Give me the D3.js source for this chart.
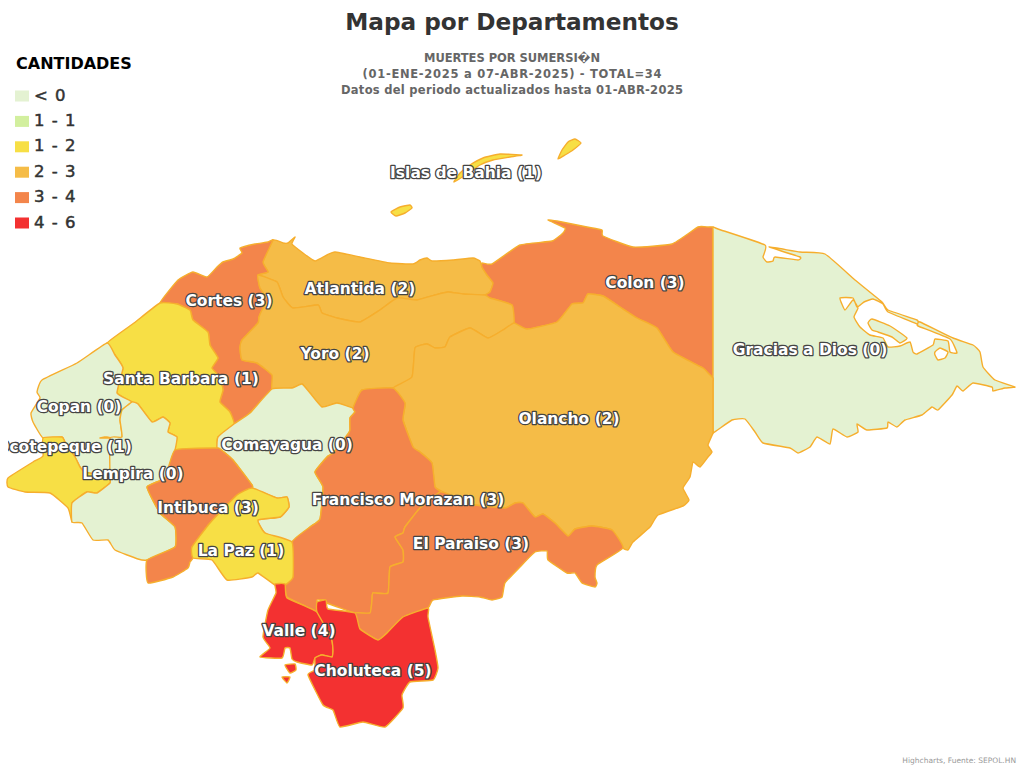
<!DOCTYPE html>
<html>
<head>
<meta charset="utf-8">
<style>
  html, body { margin: 0; padding: 0; background: #fff; }
  text { font-family: "DejaVu Sans", sans-serif; }
</style>
</head>
<body>
<div id="map"></div>
<script src="https://cdn.jsdelivr.net/npm/d3@7"></script>
<script>
// legend classes
const legendLabels = ["< 0", "1 - 1", "1 - 2", "2 - 3", "3 - 4", "4 - 6"];
const legendColors = ["#e4f2d2", "#d2ef9e", "#f7df45", "#f5bc47", "#f3854b", "#f33131"];
const classBreaks = [1, 1, 2, 3, 4];

const departments = ["Islas de Bahia", "Atlantida", "Colon", "Cortes", "Yoro", "Santa Barbara", "Gracias a Dios", "Copan", "Ocotepeque", "Olancho", "Comayagua", "Lempira", "Francisco Morazan", "Intibuca", "El Paraiso", "La Paz", "Valle", "Choluteca"];
const cantidades = [1, 2, 3, 3, 2, 1, 0, 0, 1, 2, 0, 0, 3, 3, 3, 1, 4, 5];

// where each label sits, in map units
const labelX = [466, 360, 645, 229, 335, 181, 810, 79, 64, 569, 287, 133, 408, 208, 471, 241, 299, 373];
const labelY = [172, 288, 282, 300, 353, 378, 349, 406, 446, 418, 444, 473, 499, 507, 543, 550, 630, 670];

// outlines, in map units (one list of rings per department)
const islasBahia = [
  [[454,182],[460,173],[470,165],[483,158],[500,154],[522,155],[510,157],[493,160],[480,165],[467,174]],
  [[558,159],[562,150],[568,142],[575,139],[581,143],[573,150],[565,155]],
  [[391,212],[400,207],[410,205],[412,208],[405,213],[396,216]]
];
const atlantida = [[[273,240],[283,243],[288,243],[295,237],[292,244],[303,253],[315,261],[327,255],[335,252],[360,257],[390,263],[413,264],[420,260],[427,258],[432,261],[453,260],[473,258],[480,261],[482,267],[487,275],[493,283],[490,292],[485,295],[463,294],[448,292],[435,295],[417,300],[397,298],[380,310],[360,322],[337,318],[322,313],[318,305],[293,308],[283,297],[277,282],[258,275],[268,272],[263,262]]];
const colon = [[[482,263],[492,264],[520,245],[552,241],[563,233],[565,228],[548,220],[557,221],[587,227],[602,230],[603,236],[633,247],[672,244],[698,227],[708,227],[713,227],[713,232],[713,300],[713,372],[713,378],[708,373],[703,368],[673,352],[657,328],[637,318],[620,307],[603,296],[588,294],[583,303],[572,304],[557,322],[527,329],[514,323],[512,305],[490,298],[485,295],[490,292],[493,283],[487,275],[482,267]]];
const cortes = [[[273,240],[268,242],[255,244],[240,248],[242,253],[233,259],[223,262],[217,267],[207,277],[193,272],[178,280],[160,303],[177,304],[190,310],[193,320],[208,332],[210,345],[218,358],[212,368],[220,377],[223,390],[220,402],[230,412],[234,424],[250,413],[272,389],[272,375],[257,363],[242,360],[240,348],[242,340],[258,323],[259,317],[262,310],[268,300],[260,288],[258,275],[268,272],[263,262]]];
const yoro = [[[258,275],[277,282],[283,297],[293,308],[318,305],[322,313],[337,318],[360,322],[380,310],[397,298],[417,300],[435,295],[448,292],[463,294],[485,295],[490,298],[512,305],[514,323],[503,330],[488,338],[470,328],[450,337],[445,347],[435,348],[427,344],[415,348],[412,377],[393,388],[362,390],[353,408],[337,403],[322,407],[310,393],[302,384],[292,388],[272,389],[272,375],[257,363],[242,360],[240,348],[242,340],[258,323],[259,317],[262,310],[268,300],[260,288]]];
const santaBarbara = [[[107,343],[134,323],[160,303],[177,304],[190,310],[193,320],[208,332],[210,345],[218,358],[212,368],[220,377],[223,390],[220,402],[230,412],[234,424],[218,437],[217,448],[220,449],[198,450],[175,450],[177,437],[168,432],[170,423],[163,417],[152,422],[138,404],[132,402],[117,393],[123,368],[115,355]]];
const graciasDios = [
  [[713,227],[718,229],[765,245],[763,257],[767,262],[773,261],[775,257],[798,260],[800,257],[769,247],[800,252],[825,254],[855,280],[882,302],[888,310],[917,320],[918,323],[920,322],[953,338],[973,345],[980,352],[983,367],[995,380],[1015,387],[1005,388],[993,391],[992,387],[973,383],[963,391],[957,386],[952,395],[938,410],[932,407],[922,415],[905,420],[897,427],[888,422],[887,428],[867,430],[857,424],[858,432],[847,437],[833,429],[830,444],[817,437],[810,447],[798,453],[790,448],[763,443],[755,432],[745,419],[732,420],[713,433],[713,428],[713,300],[713,232]],
  [[840,298],[853,298],[857,307],[864,302],[873,299],[883,304],[888,312],[917,324],[918,326],[950,339],[957,353],[950,352],[948,341],[935,339],[933,345],[917,354],[913,352],[910,342],[900,346],[888,347],[883,338],[870,335],[860,327],[854,317],[858,308],[853,300],[845,310]],
  [[935,352],[940,348],[948,352],[945,358],[938,360],[935,355]],
  [[868,323],[872,319],[890,326],[907,338],[900,343],[892,337],[878,332],[872,330]]
];
const copan = [[[107,343],[77,363],[42,380],[37,392],[40,398],[31,413],[33,422],[43,438],[62,437],[65,442],[75,457],[80,467],[85,472],[110,477],[110,438],[100,438],[110,438],[122,437],[120,420],[122,410],[132,402],[117,393],[123,368],[115,355]]];
const ocotepeque = [[[8,487],[8,478],[33,462],[43,456],[43,438],[62,437],[65,442],[75,457],[80,467],[85,472],[110,477],[110,483],[97,493],[87,492],[72,503],[72,522],[68,508],[50,493],[25,492]]];
const olancho = [[[514,323],[527,329],[557,322],[572,304],[583,303],[588,294],[603,296],[620,307],[637,318],[657,328],[673,352],[703,368],[708,373],[713,378],[713,384],[713,428],[713,433],[708,445],[712,452],[708,457],[700,467],[693,462],[690,477],[683,488],[689,500],[683,506],[658,515],[650,527],[633,542],[628,550],[623,548],[612,530],[592,526],[575,529],[568,536],[555,523],[543,514],[535,517],[523,503],[515,503],[505,508],[475,505],[450,495],[435,487],[432,463],[420,452],[413,447],[403,420],[405,403],[393,388],[412,377],[415,348],[427,344],[435,348],[445,347],[450,337],[470,328],[488,338],[503,330]]];
const comayagua = [[[234,424],[250,413],[272,389],[292,388],[302,384],[310,393],[322,407],[337,403],[353,408],[355,412],[350,418],[350,430],[348,434],[333,453],[327,457],[315,472],[323,487],[320,519],[310,527],[292,542],[265,533],[258,520],[280,517],[289,507],[287,497],[277,498],[252,488],[252,485],[233,460],[220,449],[217,448],[218,437]]];
const lempira = [[[132,402],[138,404],[152,422],[163,417],[170,423],[168,432],[177,437],[175,450],[165,478],[147,487],[160,513],[175,527],[175,547],[147,560],[138,559],[115,550],[108,540],[93,540],[82,523],[72,522],[72,503],[87,492],[97,493],[110,483],[110,477],[110,438],[122,437],[120,420],[122,410]]];
const morazan = [[[362,390],[393,388],[405,403],[403,420],[413,447],[420,452],[432,463],[435,487],[440,492],[420,508],[405,527],[403,533],[395,537],[403,550],[403,562],[390,567],[388,593],[373,593],[372,600],[370,613],[355,613],[327,603],[325,600],[317,600],[317,612],[303,605],[287,597],[285,585],[293,577],[292,542],[310,527],[320,519],[323,487],[315,472],[327,457],[333,453],[348,434],[350,430],[350,418],[355,412],[353,408]]];
const intibuca = [[[175,450],[217,448],[220,449],[233,460],[252,485],[252,488],[237,495],[210,523],[192,547],[193,558],[190,562],[188,568],[173,577],[148,583],[147,560],[175,547],[175,527],[160,513],[147,487],[165,478]]];
const paraiso = [[[440,492],[450,495],[475,505],[505,508],[515,503],[523,503],[535,517],[543,514],[555,523],[568,536],[575,529],[592,526],[612,530],[623,548],[597,565],[595,577],[597,583],[595,587],[582,583],[575,573],[567,573],[548,560],[547,551],[535,552],[520,567],[505,583],[502,597],[492,600],[480,597],[462,596],[433,600],[428,608],[403,617],[387,633],[378,640],[360,629],[355,613],[370,613],[372,600],[373,593],[388,593],[390,567],[403,562],[403,550],[395,537],[403,533],[405,527],[420,508]]];
const laPaz = [[[252,488],[277,498],[287,497],[289,507],[280,517],[258,520],[265,533],[292,542],[293,577],[285,585],[275,585],[258,573],[252,577],[227,580],[212,560],[193,558],[192,547],[210,523],[237,495]]];
const valle = [
  [[275,584],[285,584],[287,598],[317,612],[331,637],[333,650],[332,657],[322,655],[315,658],[312,665],[297,662],[292,659],[290,648],[285,648],[282,658],[260,657],[270,648],[263,637],[268,610],[276,593]],
  [[285,665],[295,664],[296,670],[290,673]],
  [[282,677],[290,677],[287,683]]
];
const choluteca = [[[317,602],[326,600],[328,609],[355,613],[360,629],[378,640],[387,633],[403,617],[428,608],[428,617],[435,650],[438,668],[433,680],[410,682],[402,695],[403,708],[385,727],[363,722],[340,727],[333,710],[323,705],[308,675],[315,670],[315,658],[322,655],[332,657],[333,650],[331,637],[317,612]]];

const outlines = [islasBahia, atlantida, colon, cortes, yoro, santaBarbara, graciasDios, copan, ocotepeque, olancho, comayagua, lempira, morazan, intibuca, paraiso, laPaz, valle, choluteca];

const subtitle = ["MUERTES POR SUMERSI\uFFFDN", "(01-ENE-2025 a 07-ABR-2025) - TOTAL=34", "Datos del periodo actualizados hasta 01-ABR-2025"];
const subtitleWidths = [176, 299, 342];

var width = 1024,
  height = 768;

var xScale = d3.scaleLinear().domain([0, 1024]).range([0, width]);
var yScale = d3.scaleLinear().domain([0, 768]).range([0, height]);

var color = d3.scaleThreshold().domain(classBreaks).range(legendColors);

var line = d3.line()
  .x(function(d) { return xScale(d[0]); })
  .y(function(d) { return yScale(d[1]); })
  .curve(d3.curveCardinalClosed.tension(0.6));

var svg = d3.select("#map").append("svg")
  .attr("width", width)
  .attr("height", height)
  .style("display", "block");

svg.append("defs").append("clipPath")
  .attr("id", "plot")
  .append("rect")
  .attr("x", 8).attr("y", 0)
  .attr("width", width - 8).attr("height", height);

var rows = departments.map(function(name, i) {
  return { name: name, value: cantidades[i], rings: outlines[i], x: labelX[i], y: labelY[i] };
});

// departments
svg.append("g")
  .selectAll("path")
  .data(rows)
  .enter()
  .append("path")
  .attr("d", function(d) {
    return d.rings.map(function(r) { return line(r); }).join("");
  })
  .attr("fill", function(d) { return color(d.value); })
  .attr("fill-rule", "evenodd")
  .attr("stroke", "#f6ae2d")
  .attr("stroke-width", 1.4)
  .attr("stroke-linejoin", "round");

// labels
svg.append("g")
  .attr("clip-path", "url(#plot)")
  .selectAll("text")
  .data(rows)
  .enter()
  .append("text")
  .attr("x", function(d) { return xScale(d.x); })
  .attr("y", function(d) { return yScale(d.y) + 1; })
  .attr("text-anchor", "middle")
  .attr("dominant-baseline", "central")
  .attr("font-size", 15.5)
  .attr("font-weight", "bold")
  .attr("fill", "#fff")
  .attr("stroke", "#444")
  .attr("stroke-width", 2.6)
  .attr("stroke-linejoin", "round")
  .style("paint-order", "stroke")
  .text(function(d) { return d.name + " (" + d.value + ")"; });

// titles
svg.append("text")
  .attr("x", 512).attr("y", 30)
  .attr("text-anchor", "middle")
  .attr("font-size", 23.2)
  .attr("font-weight", "bold")
  .attr("fill", "#333")
  .text("Mapa por Departamentos");

svg.append("g")
  .selectAll("text")
  .data(subtitle)
  .enter()
  .append("text")
  .attr("x", 512)
  .attr("y", function(d, i) { return 62 + i * 16; })
  .attr("text-anchor", "middle")
  .attr("font-size", 11.5)
  .attr("font-weight", "bold")
  .attr("fill", "#666")
  .attr("textLength", function(d, i) { return subtitleWidths[i]; })
  .text(function(d) { return d; });

// legend
svg.append("text")
  .attr("x", 16).attr("y", 69)
  .attr("font-size", 16)
  .attr("font-weight", "bold")
  .attr("fill", "#000")
  .text("CANTIDADES");

var legendY = d3.scalePoint().domain(legendLabels).range([96, 223]);

var items = svg.append("g")
  .selectAll("g")
  .data(legendLabels)
  .enter()
  .append("g")
  .attr("transform", function(d) { return "translate(15," + legendY(d) + ")"; });

items.append("rect")
  .attr("y", -5.5)
  .attr("width", 14)
  .attr("height", 11)
  .attr("fill", function(d, i) { return legendColors[i]; });

items.append("text")
  .attr("x", 19)
  .attr("y", -1)
  .attr("dominant-baseline", "central")
  .attr("font-size", 16.5)
  .attr("letter-spacing", 1)
  .attr("fill", "#333")
  .attr("stroke", "#333")
  .attr("stroke-width", 0.5)
  .text(function(d) { return d; });

// credits
svg.append("text")
  .attr("x", 1016).attr("y", 763)
  .attr("text-anchor", "end")
  .attr("font-size", 7.5)
  .attr("fill", "#999")
  .text("Highcharts, Fuente: SEPOL.HN");
</script>
</body>
</html>
